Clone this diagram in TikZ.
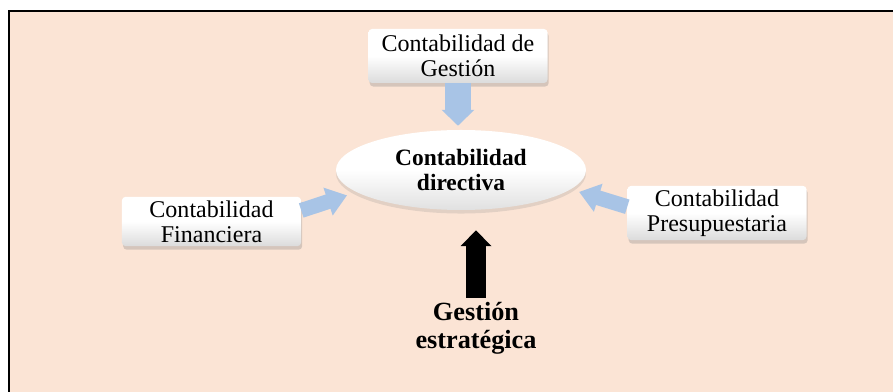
\documentclass[tikz,border=0pt]{standalone}
\usepackage{fontspec}
\setmainfont{Liberation Serif}
\usetikzlibrary{arrows.meta,shapes.geometric,shadows}
\definecolor{bgpeach}{RGB}{251,228,213}
\definecolor{arrowblue}{RGB}{168,196,230}

\tikzset{
  box/.style={rounded corners=3pt, top color=white, bottom color=black!14, middle color=white,
    minimum width=5.37cm, minimum height=1.62cm, align=center, font=\fontsize{20.5}{21}\selectfont,
    drop shadow={opacity=0.3, shadow xshift=1pt, shadow yshift=-3pt}},
  oval/.style={ellipse, inner sep=0pt, minimum width=7.5cm, minimum height=2.4cm, align=center,
    top color=white, bottom color=black!12, middle color=white,
    font=\fontsize{20}{21}\selectfont\bfseries,
    drop shadow={opacity=0.2, shadow xshift=0pt, shadow yshift=-3pt}},
  bluearrow/.style={color=arrowblue, line width=0.45cm, -{Triangle[width=0.84cm, length=0.6cm]}}
}

\begin{document}
\begin{tikzpicture}[x=0.03cm, y=0.03cm]
\useasboundingbox (0,0) rectangle (893,392);
\fill[bgpeach] (9,0) rectangle (893,381);
\draw[line width=1.2pt] (9,0) -- (9,381) -- (893,381);
\node[box] (gestion) at (458,336) {Contabilidad de\\Gestión};
\node[box, minimum height=1.47cm] (financiera) at (211.5,170.5) {Contabilidad\\Financiera};
\node[box] (presup) at (717,179) {Contabilidad\\Presupuestaria};
\node[oval] (directiva) at (461,222) {Contabilidad\\directiva};
\node[align=center, font=\fontsize{22.4}{24}\selectfont\bfseries] (estrategica) at (476,64) {Gestión\\estratégica};
% arrows into the ellipse
\draw[bluearrow, line width=0.78cm, -{Triangle[width=0.96cm, length=0.48cm]}, shorten >=0.12cm] (gestion.south) -- (gestion.south |- directiva.north);
\draw[bluearrow, shorten >=0.3cm] (financiera.7) -- (directiva.192);
\draw[bluearrow, shorten >=0.26cm] (presup.176) -- (directiva.350);
\draw[line width=0.6cm, -{Triangle[width=0.9cm, length=0.48cm]}, shorten >=0.6cm] (estrategica.north) -- (estrategica.north |- directiva.south);
\end{tikzpicture}
\end{document}
